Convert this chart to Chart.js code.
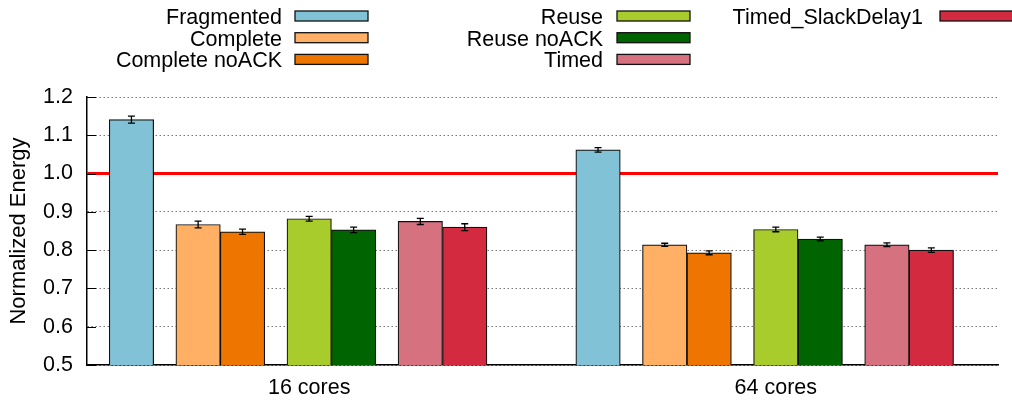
<!DOCTYPE html>
<html>
<head>
<meta charset="utf-8">
<script src="https://cdn.jsdelivr.net/npm/chart.js@4.4.1/dist/chart.umd.min.js"></script>
<style>
  html, body { margin: 0; padding: 0; background: #fff; }
  #wrap { width: 1012px; height: 400px; position: relative; }
</style>
</head>
<body>
<div id="wrap"><canvas id="chart"></canvas></div>
<script>
// Core counts along the x axis
const groups = ['16 cores', '64 cores'];

// Protocol variants (one bar per variant in every group)
const seriesNames = ['Fragmented', 'Complete', 'Complete noACK', 'Reuse', 'Reuse noACK', 'Timed', 'Timed_SlackDelay1'];

// Normalized energy per variant: [16 cores, 64 cores]
const fragmented        = [1.141, 1.062];
const complete          = [0.867, 0.814];
const completeNoAck     = [0.848, 0.793];
const reuse             = [0.882, 0.854];
const reuseNoAck        = [0.853, 0.829];
const timed             = [0.875, 0.814];
const timedSlackDelay1  = [0.860, 0.800];

// Error bar half-widths: [16 cores, 64 cores]
const fragmentedErr       = [0.009, 0.006];
const completeErr         = [0.009, 0.004];
const completeNoAckErr    = [0.007, 0.005];
const reuseErr            = [0.006, 0.006];
const reuseNoAckErr       = [0.007, 0.005];
const timedErr            = [0.008, 0.005];
const timedSlackDelay1Err = [0.009, 0.006];

// Y axis tick values and the reference level
const yTicks = [0.5, 0.6, 0.7, 0.8, 0.9, 1.0, 1.1, 1.2];
const baseline = 1.0;

const seriesValues = [fragmented, complete, completeNoAck, reuse, reuseNoAck, timed, timedSlackDelay1];
const seriesErrors = [fragmentedErr, completeErr, completeNoAckErr, reuseErr, reuseNoAckErr, timedErr, timedSlackDelay1Err];

// Styling
const seriesColors = ['#82c2d6', '#ffb064', '#ee7500', '#a8cc2c', '#006400', '#d67280', '#d32a3f'];
const FONT = "'Liberation Sans', Arial, Helvetica, sans-serif";
const FONT_SIZE = 21.5;

// Cluster layout in bar-width units: bar centres inside a cluster,
// the distance between clusters and where the cluster label sits.
const slotCentres = [0.5, 2, 3, 4.5, 5.5, 7, 8];
const clusterStep = 10.5;
const clusterLabelAt = 4.5;

const datasets = seriesNames.map((name, s) => ({
  label: name,
  data: groups.map((g, gi) => ({ x: gi * clusterStep + slotCentres[s], y: seriesValues[s][gi] })),
  errors: seriesErrors[s],
  backgroundColor: seriesColors[s],
  borderColor: '#111',
  borderWidth: 1.2,
  borderSkipped: 'bottom',
  grouped: false,
  barPercentage: 1,
  categoryPercentage: 1
}));

// Red reference line behind the bars
const baselinePlugin = {
  id: 'baseline',
  beforeDatasetsDraw(chart) {
    const { ctx, chartArea, scales: { y } } = chart;
    const py = y.getPixelForValue(baseline);
    ctx.save();
    ctx.strokeStyle = '#ff0000';
    ctx.lineWidth = 3;
    ctx.beginPath();
    ctx.moveTo(chartArea.left, py);
    ctx.lineTo(chartArea.right, py);
    ctx.stroke();
    ctx.restore();
  }
};

// Error bars with small caps on top of every bar
const errorBarPlugin = {
  id: 'errorBars',
  afterDatasetsDraw(chart) {
    const { ctx, scales: { y } } = chart;
    ctx.save();
    ctx.strokeStyle = '#000';
    ctx.lineWidth = 1.3;
    chart.data.datasets.forEach((ds, i) => {
      const meta = chart.getDatasetMeta(i);
      meta.data.forEach((bar, j) => {
        const v = ds.data[j].y, e = ds.errors[j];
        const top = y.getPixelForValue(v + e);
        const bot = y.getPixelForValue(v - e);
        const cx = bar.x, cap = 3.5;
        ctx.beginPath();
        ctx.moveTo(cx, top); ctx.lineTo(cx, bot);
        ctx.moveTo(cx - cap, top); ctx.lineTo(cx + cap, top);
        ctx.moveTo(cx - cap, bot); ctx.lineTo(cx + cap, bot);
        ctx.stroke();
      });
    });
    ctx.restore();
  }
};

// Inward tick marks on the y axis
const innerTicksPlugin = {
  id: 'innerTicks',
  afterDraw(chart) {
    const { ctx, chartArea, scales: { y } } = chart;
    ctx.save();
    ctx.strokeStyle = '#000';
    ctx.lineWidth = 1;
    y.ticks.forEach(t => {
      const py = Math.round(y.getPixelForValue(t.value)) + 0.5;
      ctx.beginPath();
      ctx.moveTo(chartArea.left, py);
      ctx.lineTo(chartArea.left + 9, py);
      ctx.stroke();
    });
    ctx.restore();
  }
};

// Key in three columns: label right-aligned, swatch to its right
const legendColumns = [
  { textRight: 282, boxLeft: 295 },
  { textRight: 603, boxLeft: 617 },
  { textRight: 923, boxLeft: 940 }
];
const legendRows = 3;
const keyPlugin = {
  id: 'gnuKey',
  afterDraw(chart) {
    const { ctx } = chart;
    ctx.save();
    ctx.font = FONT_SIZE + 'px ' + FONT;
    ctx.textAlign = 'right';
    ctx.textBaseline = 'alphabetic';
    chart.data.datasets.forEach((ds, i) => {
      const col = legendColumns[Math.floor(i / legendRows)];
      const row = i % legendRows;
      const cy = 16 + row * 21.7;
      ctx.fillStyle = '#000';
      ctx.fillText(ds.label, col.textRight, cy + 8);
      ctx.fillStyle = ds.backgroundColor;
      ctx.fillRect(col.boxLeft, cy - 5, 73, 10);
      ctx.strokeStyle = '#111';
      ctx.lineWidth = 1.3;
      ctx.strokeRect(col.boxLeft, cy - 5, 73, 10);
    });
    ctx.restore();
  }
};

Chart.defaults.font.family = FONT;
Chart.defaults.color = '#000';

new Chart(document.getElementById('chart'), {
  type: 'bar',
  data: { datasets },
  plugins: [baselinePlugin, errorBarPlugin, innerTicksPlugin, keyPlugin],
  options: {
    responsive: true,
    maintainAspectRatio: false,
    animation: false,
    devicePixelRatio: 1,
    layout: { padding: { top: 97, right: 14, bottom: 0, left: 0 } },
    plugins: { legend: { display: false }, tooltip: { enabled: false } },
    scales: {
      x: {
        type: 'linear',
        offset: false,
        min: -0.5,
        max: 2 * clusterStep - 1,
        afterBuildTicks(scale) {
          scale.ticks = groups.map((g, i) => ({ value: i * clusterStep + clusterLabelAt }));
        },
        afterFit(scale) { scale.height = 35; },
        grid: { display: false, drawTicks: false, offset: false },
        border: { display: true, color: '#000', width: 1.5 },
        ticks: {
          autoSkip: false,
          maxRotation: 0,
          padding: 10,
          font: { size: FONT_SIZE },
          color: '#000',
          callback: (v, i) => groups[i]
        }
      },
      y: {
        min: yTicks[0],
        max: yTicks[yTicks.length - 1],
        afterBuildTicks(scale) {
          scale.ticks = yTicks.map(v => ({ value: v }));
        },
        afterFit(scale) { scale.width = 87; },
        grid: { color: '#777', lineWidth: 1, drawTicks: false },
        border: { display: true, color: '#000', width: 1.5, dash: [1.5, 2.5] },
        ticks: {
          padding: 14,
          font: { size: FONT_SIZE },
          color: '#000',
          callback: v => Number(v).toFixed(1)
        },
        title: {
          display: true,
          text: 'Normalized Energy',
          font: { size: 22 },
          color: '#000',
          padding: { top: 6, bottom: 0 }
        }
      }
    }
  }
});
</script>
</body>
</html>
